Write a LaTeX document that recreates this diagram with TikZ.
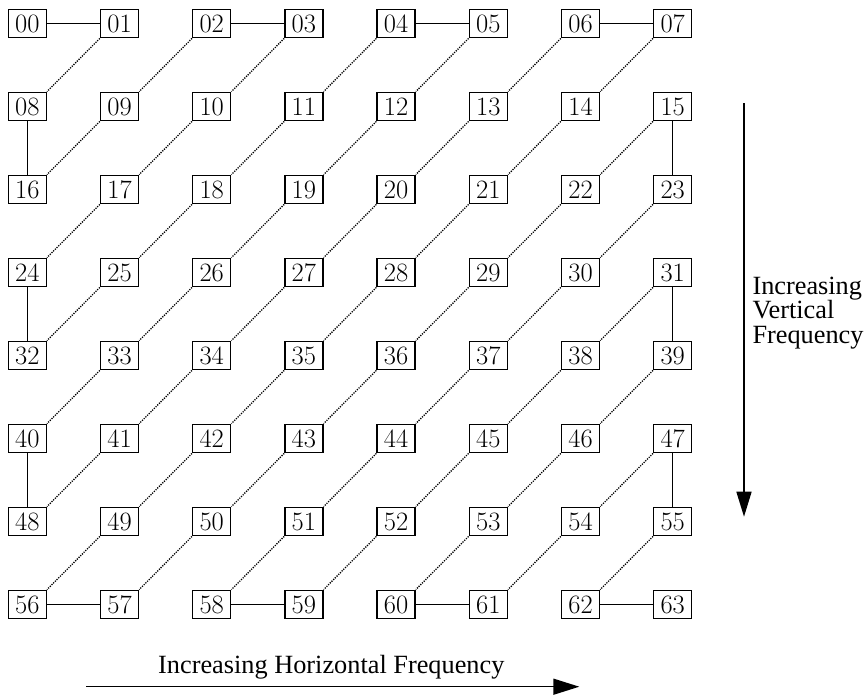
\documentclass[tikz,border=0pt]{standalone}
\usepackage{fontspec}
\newfontfamily\labelfont{Liberation Serif}
\usetikzlibrary{arrows.meta}
\begin{document}
\begin{tikzpicture}[x=1pt,y=-1pt,
  cell/.style={draw,line width=1.5pt,minimum width=38pt,minimum height=28.4pt,inner sep=0pt,
    font=\fontsize{26.5}{30}\selectfont},
  solidlink/.style={line width=1.5pt},
  dotlink/.style={line width=1.3pt,dash pattern=on 1.2pt off 1.2pt},
  axisarrow/.style={line width=1.5pt},
  axislabel/.style={inner sep=0pt,font=\labelfont\fontsize{26.3}{24.5}\selectfont}]
\useasboundingbox (0,0) rectangle (867,696);
\foreach \r in {0,...,7}{
  \foreach \c in {0,...,7}{
    \pgfmathtruncatemacro{\n}{8*\r+\c}
    \node[cell] (n\n) at ({27.3+92.2*\c},{23.5+83*\r}) {\ifnum\n<10 0\fi\n};
  }
}
% horizontal solid links
\foreach \a/\b in {0/1,2/3,4/5,6/7,56/57,58/59,60/61,62/63}
  \draw[solidlink] (n\a.east) -- (n\b.west);
% vertical solid links
\foreach \a/\b in {8/16,24/32,40/48,15/23,31/39,47/55}
  \draw[solidlink] (n\a.south) -- (n\b.north);
% diagonal dotted links
\foreach \r in {0,...,6}{
  \foreach \c in {1,...,7}{
    \pgfmathtruncatemacro{\u}{8*\r+\c}
    \pgfmathtruncatemacro{\v}{\u+7}
    \draw[dotlink] (n\u.south west) -- (n\v.north east);
  }
}
% axes
\coordinate (vtop) at (744,103.3);
\coordinate (vbot) at (744,516.7);
\draw[axisarrow,-{Triangle[length=25pt,width=15pt]}] (vtop) -- (vbot);
\coordinate (hleft) at (86,686.7);
\coordinate (hright) at (579.3,686.7);
\draw[axisarrow,-{Triangle[length=26pt,width=16pt]}] (hleft) -- (hright);
\node[axislabel,anchor=base] (hlabel) at (331.3,673.3) {Increasing Horizontal Frequency};
\node[axislabel,anchor=north west,align=left] (vlabel) at (752.3,276.7) {Increasing\\Vertical\\Frequency};
\end{tikzpicture}
\end{document}
